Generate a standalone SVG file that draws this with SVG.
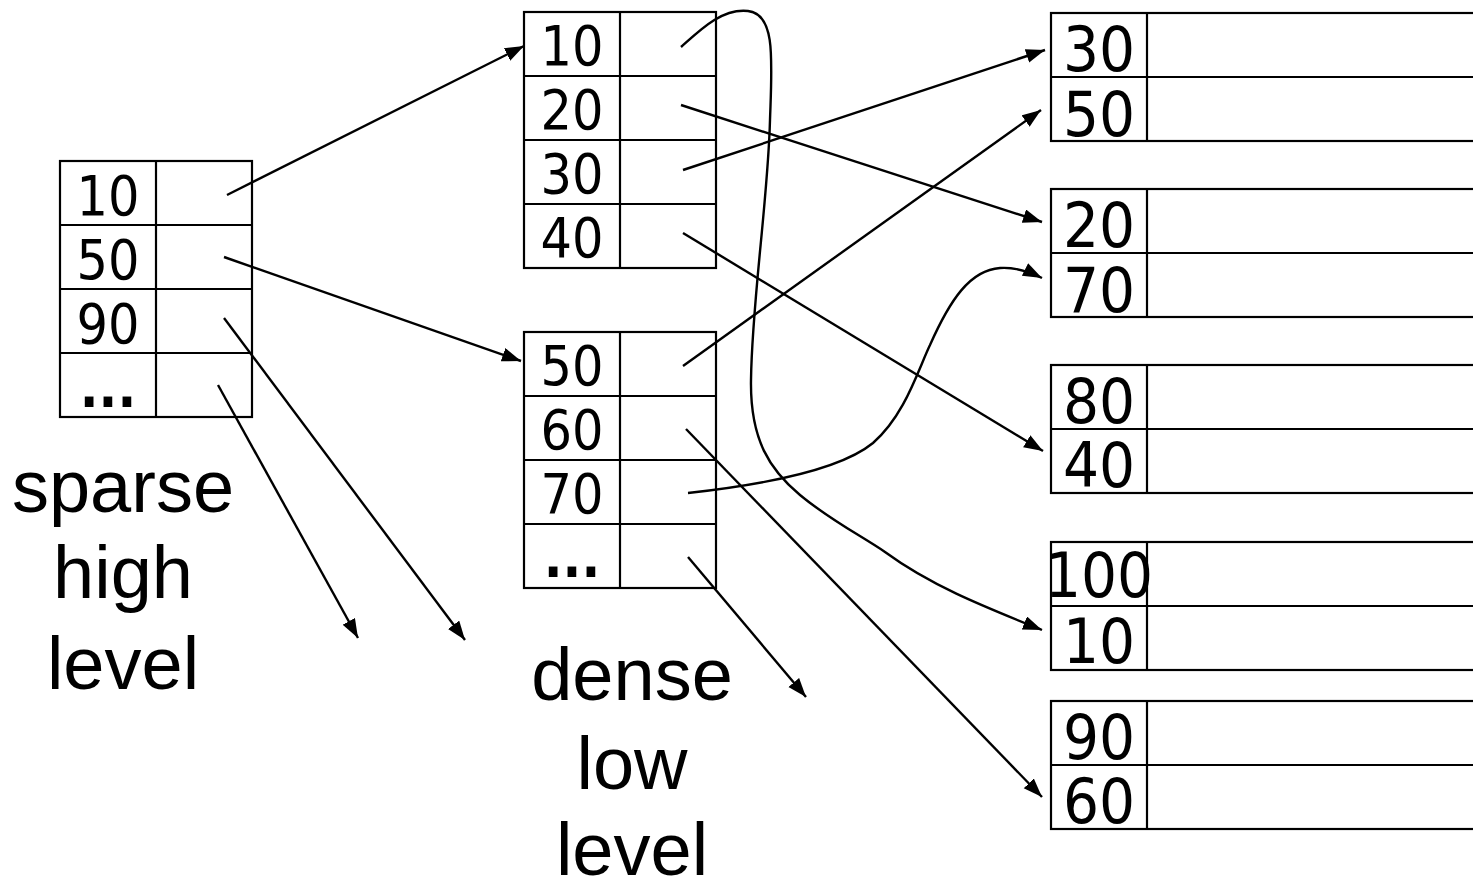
<svg xmlns="http://www.w3.org/2000/svg" width="1473" height="881" viewBox="0 0 1473 881">
  <style>
    .cell { fill: #fff; stroke: #000; stroke-width: 2.2; }
    .div { stroke: #000; stroke-width: 2.2; }
    .key { font-family: "DejaVu Sans Condensed", "DejaVu Sans", sans-serif; font-size: 55px; text-anchor: middle; fill: #000; }
    .dots { font-weight: bold; }
    .rkey { font-family: "DejaVu Sans Condensed", "DejaVu Sans", sans-serif; font-size: 63px; text-anchor: middle; fill: #000; }
    .cap { font-family: "Liberation Sans", Arial, sans-serif; font-size: 74px; text-anchor: middle; fill: #000; }
    .link { fill: none; stroke: #000; stroke-width: 2.4; marker-end: url(#arrow); }
  </style>
  <defs>
    <marker id="arrow" markerUnits="userSpaceOnUse" markerWidth="22" markerHeight="16" refX="19" refY="7" orient="auto">
      <path d="M0,0 L19,7 L0,14 z" fill="#000"/>
    </marker>
  </defs>
  <rect width="1473" height="881" fill="#fff"/>

  <!-- sparse high-level index -->
  <g id="sparse-index">
    <rect class="cell" x="60" y="161" width="192" height="256"/>
    <line class="div" x1="156" y1="161" x2="156" y2="417"/>
    <line class="div" x1="60" y1="225" x2="252" y2="225"/>
    <line class="div" x1="60" y1="289" x2="252" y2="289"/>
    <line class="div" x1="60" y1="353" x2="252" y2="353"/>
    <text class="key" x="108" y="215">10</text>
    <text class="key" x="108" y="279">50</text>
    <text class="key" x="108" y="343">90</text>
    <text class="key dots" x="108" y="407">...</text>
  </g>

  <!-- dense low-level index, first block -->
  <g id="dense-block-1">
    <rect class="cell" x="524" y="12" width="192" height="256"/>
    <line class="div" x1="620" y1="12" x2="620" y2="268"/>
    <line class="div" x1="524" y1="76" x2="716" y2="76"/>
    <line class="div" x1="524" y1="140" x2="716" y2="140"/>
    <line class="div" x1="524" y1="204" x2="716" y2="204"/>
    <text class="key" x="572" y="65">10</text>
    <text class="key" x="572" y="129">20</text>
    <text class="key" x="572" y="193">30</text>
    <text class="key" x="572" y="257">40</text>
  </g>

  <!-- dense low-level index, second block -->
  <g id="dense-block-2">
    <rect class="cell" x="524" y="332" width="192" height="256"/>
    <line class="div" x1="620" y1="332" x2="620" y2="588"/>
    <line class="div" x1="524" y1="396" x2="716" y2="396"/>
    <line class="div" x1="524" y1="460" x2="716" y2="460"/>
    <line class="div" x1="524" y1="524" x2="716" y2="524"/>
    <text class="key" x="572" y="385">50</text>
    <text class="key" x="572" y="449">60</text>
    <text class="key" x="572" y="513">70</text>
    <text class="key dots" x="572" y="577">...</text>
  </g>

  <!-- data blocks -->
  <g id="data-1">
    <rect class="cell" x="1051" y="13" width="440" height="128"/>
    <line class="div" x1="1147" y1="13" x2="1147" y2="141"/>
    <line class="div" x1="1051" y1="77" x2="1473" y2="77"/>
    <text class="rkey" x="1099" y="71">30</text>
    <text class="rkey" x="1099" y="136">50</text>
  </g>
  <g id="data-2">
    <rect class="cell" x="1051" y="189" width="440" height="128"/>
    <line class="div" x1="1147" y1="189" x2="1147" y2="317"/>
    <line class="div" x1="1051" y1="253" x2="1473" y2="253"/>
    <text class="rkey" x="1099" y="247">20</text>
    <text class="rkey" x="1099" y="312">70</text>
  </g>
  <g id="data-3">
    <rect class="cell" x="1051" y="365" width="440" height="128"/>
    <line class="div" x1="1147" y1="365" x2="1147" y2="493"/>
    <line class="div" x1="1051" y1="429" x2="1473" y2="429"/>
    <text class="rkey" x="1099" y="423">80</text>
    <text class="rkey" x="1099" y="487">40</text>
  </g>
  <g id="data-4">
    <rect class="cell" x="1051" y="542" width="440" height="128"/>
    <line class="div" x1="1147" y1="542" x2="1147" y2="670"/>
    <line class="div" x1="1051" y1="606" x2="1473" y2="606"/>
    <text class="rkey" x="1099" y="597" font-size="59">100</text>
    <text class="rkey" x="1099" y="663">10</text>
  </g>
  <g id="data-5">
    <rect class="cell" x="1051" y="701" width="440" height="128"/>
    <line class="div" x1="1147" y1="701" x2="1147" y2="829"/>
    <line class="div" x1="1051" y1="765" x2="1473" y2="765"/>
    <text class="rkey" x="1099" y="759">90</text>
    <text class="rkey" x="1099" y="823">60</text>
  </g>

  <!-- captions -->
  <g id="caption-sparse">
    <text class="cap" x="123" y="512">sparse</text>
    <text class="cap" x="123" y="598">high</text>
    <text class="cap" x="123" y="689">level</text>
  </g>
  <g id="caption-dense">
    <text class="cap" x="632" y="700">dense</text>
    <text class="cap" x="632" y="789">low</text>
    <text class="cap" x="632" y="875">level</text>
  </g>

  <!-- pointers -->
  <g id="connectors">
    <line class="link" x1="227" y1="195" x2="524" y2="46"/>
    <line class="link" x1="224" y1="257" x2="521" y2="361"/>
    <line class="link" x1="224" y1="318" x2="465" y2="640"/>
    <line class="link" x1="218" y1="385" x2="358" y2="638"/>
    <path class="link" d="M681,47 C700,30 722,8 748,11 C776,14 772,60 770,120 C768,200 752,300 751,380 C750,440 770,470 800,495 C830,520 860,535 885,552 C930,585 980,605 1042,630"/>
    <line class="link" x1="681" y1="105" x2="1042" y2="222"/>
    <line class="link" x1="683" y1="170" x2="1045" y2="50"/>
    <line class="link" x1="683" y1="233" x2="1043" y2="451"/>
    <line class="link" x1="683" y1="366" x2="1041" y2="110"/>
    <line class="link" x1="686" y1="429" x2="1042" y2="797"/>
    <path class="link" d="M688,493 C760,485 840,470 873,443 C905,415 918,370 930,345 C950,300 970,270 1000,268 C1015,267 1030,272 1042,278"/>
    <line class="link" x1="688" y1="557" x2="806" y2="697"/>
  </g>
</svg>
